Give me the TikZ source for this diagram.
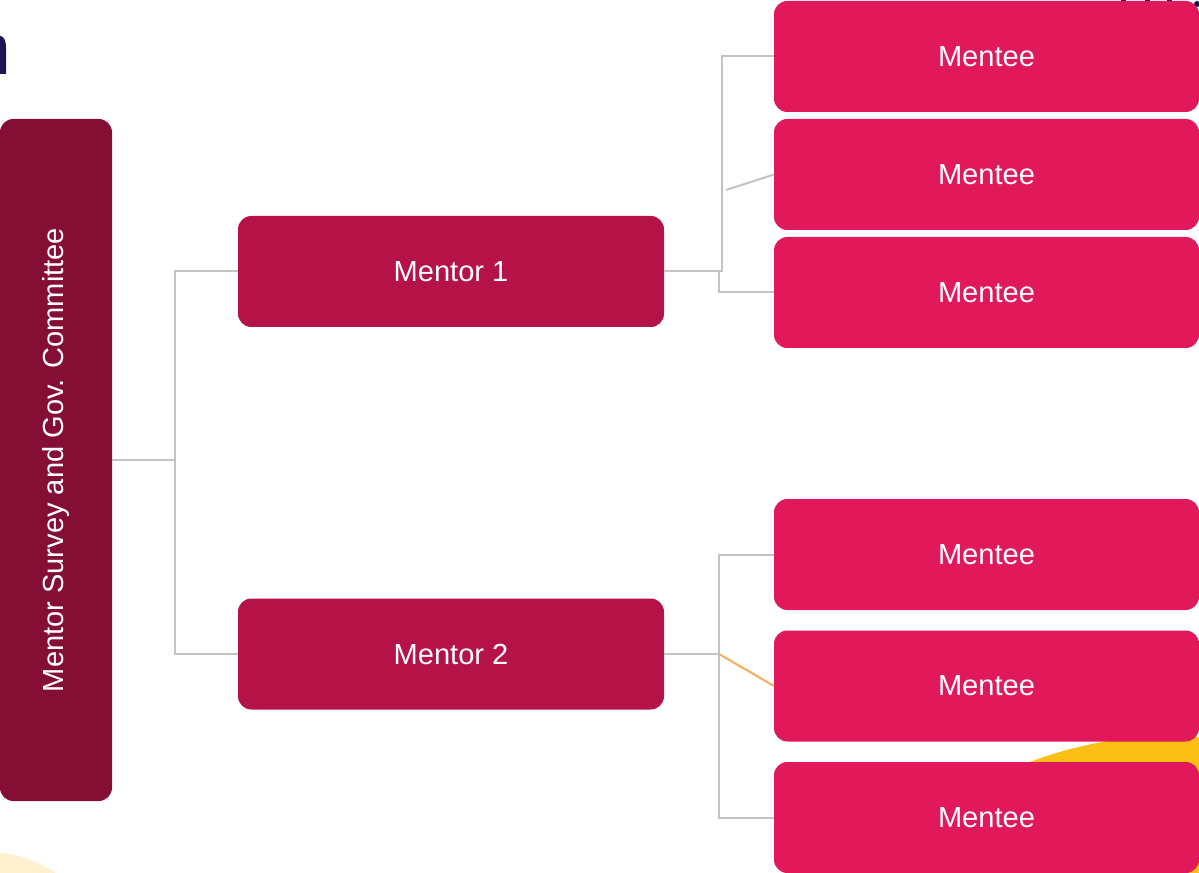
\documentclass[tikz,border=0pt]{standalone}
\usepackage{fontspec}
\setmainfont{Liberation Sans}
\definecolor{commcol}{HTML}{850E35}
\definecolor{mentorcol}{HTML}{B51248}
\definecolor{menteecol}{HTML}{E1185A}
\definecolor{conncol}{HTML}{C3C3C3}
\definecolor{orangecol}{HTML}{F6AD5F}
\definecolor{navycol}{HTML}{1E1550}
\definecolor{paleyellow}{HTML}{FEF1CF}
\definecolor{sunyellow}{HTML}{FBBF16}
\begin{document}
\begin{tikzpicture}[x=0.75pt,y=-0.75pt,
  box/.style={rectangle,rounded corners=10pt,inner sep=0pt,outer sep=0pt,text=white,
    font=\fontsize{21.8}{25}\selectfont},
  mentorbox/.style={box,fill=mentorcol,minimum width=319.5pt,minimum height=83.25pt},
  menteebox/.style={box,fill=menteecol,minimum width=318.75pt,minimum height=83.25pt},
  commbox/.style={box,fill=commcol,minimum width=84pt,minimum height=511.5pt},
  conn/.style={draw=conncol,line width=1.5pt},
  hiconn/.style={draw=orangecol,line width=1.5pt}]
\useasboundingbox (0,0) rectangle (1199,873);
\begin{scope}
\clip (0,0) rectangle (1199,873);
% background shapes
\fill[paleyellow] (-14,979) circle (127);
\fill[sunyellow] (1172,1136) circle (400);
\fill[navycol] (0,74) -- (0,36) .. controls (4,36) and (6,41) .. (6,47) -- (6,74) -- cycle;
\fill[navycol] (1121,0) rectangle (1126,2);
\fill[navycol] (1145,0) rectangle (1150,2);
\fill[navycol] (1167,0) rectangle (1172,2);
\fill[navycol] (1197,4) circle (3);
% nodes
\node[commbox] (c) at (56,460) {\rotatebox{90}{Mentor Survey and Gov. Committee}};
\node[mentorbox] (m1) at (451,271.5) {Mentor 1};
\node[mentorbox] (m2) at (451,654) {Mentor 2};
\node[menteebox] (e1) at (986.5,56.5) {\raisebox{-1pt}{Mentee}};
\node[menteebox] (e2) at (986.5,174.5) {\raisebox{-1pt}{Mentee}};
\node[menteebox] (e3) at (986.5,292.5) {\raisebox{-1pt}{Mentee}};
\node[menteebox] (e4) at (986.5,554.5) {\raisebox{-1pt}{Mentee}};
\node[menteebox] (e5) at (986.5,686) {\raisebox{-1pt}{Mentee}};
\node[menteebox] (e6) at (986.5,817.5) {\raisebox{-1pt}{Mentee}};
% junction coordinates
\coordinate (j0) at (175,460);
\coordinate (j1) at (722,271.5);
\coordinate (j1b) at (719,271.5);
\coordinate (d1) at (726,190);
\coordinate (j2) at (719,654);
% connectors
\draw[conn] (c.east) -- (j0);
\draw[conn] (j0) |- (m1.west);
\draw[conn] (j0) |- (m2.west);
\draw[conn] (m1.east) -- (j1) |- (e1.west);
\draw[conn] (j1b) |- (e3.west);
\draw[conn] (d1) -- (e2.west);
\draw[conn] (m2.east) -- (j2) |- (e4.west);
\draw[conn] (j2) |- (e6.west);
\draw[hiconn] (j2) -- (e5.west);
\end{scope}
\end{tikzpicture}
\end{document}
